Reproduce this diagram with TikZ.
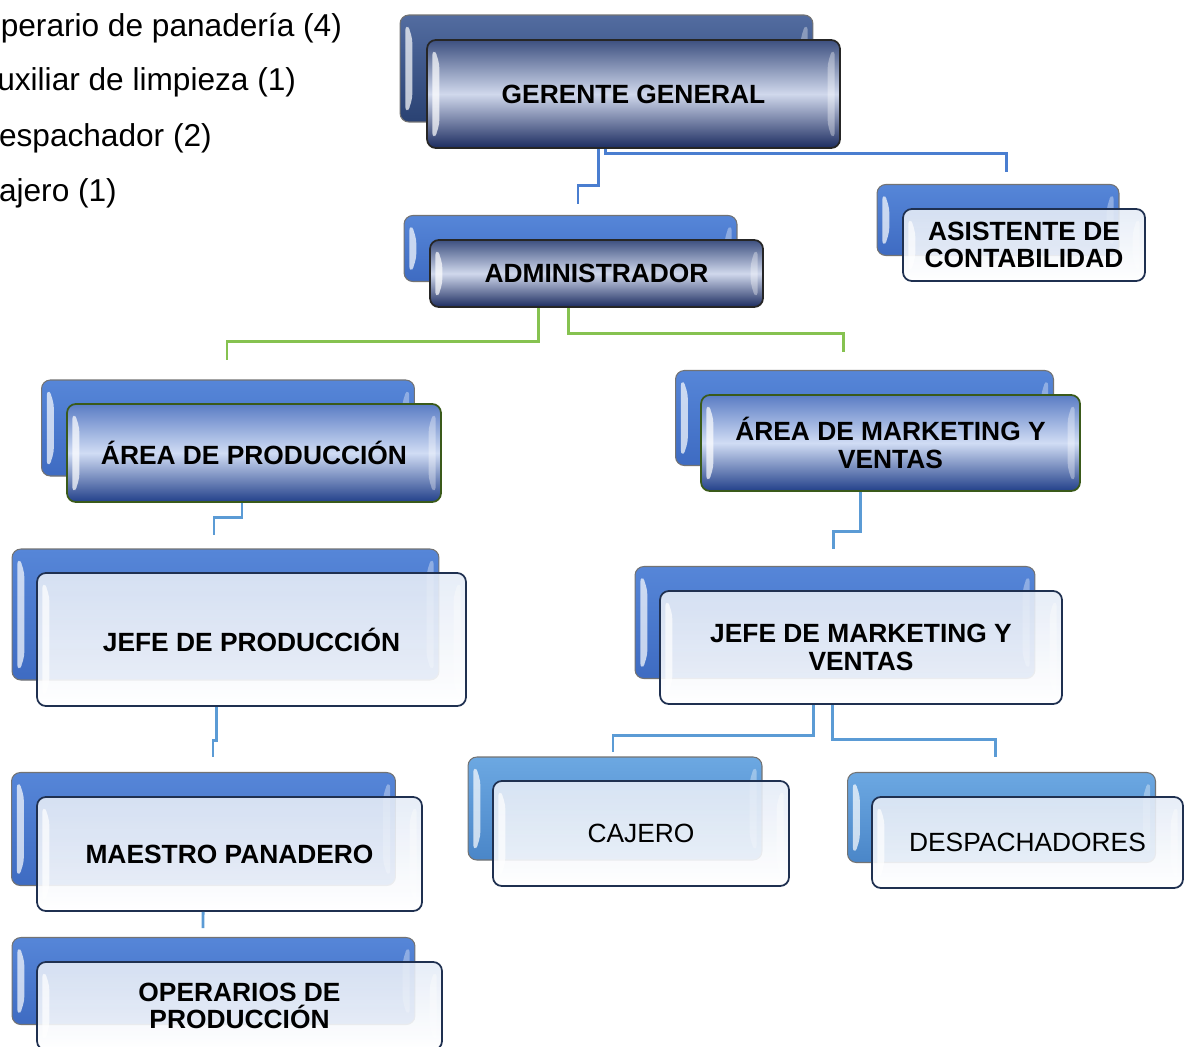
\documentclass[tikz,border=0pt]{standalone}
\usepackage{fontspec}
\setmainfont{Liberation Sans}
\usepackage{tikz}
\definecolor{navytop}{HTML}{3D5080}
\definecolor{navymid}{HTML}{D0D8EC}
\definecolor{navybot}{HTML}{1C2C60}
\definecolor{navyback}{HTML}{34528F}
\definecolor{areatop}{HTML}{5A7CC4}
\definecolor{areamid}{HTML}{D0DCF4}
\definecolor{areabot}{HTML}{22408A}
\definecolor{arealine}{HTML}{3A5A1A}
\definecolor{midtop}{HTML}{5686D8}
\definecolor{midbot}{HTML}{3E6BC2}
\definecolor{skytop}{HTML}{6CA8E2}
\definecolor{skybot}{HTML}{4A86C8}
\definecolor{lighttop}{HTML}{E4EBF6}
\definecolor{lightline}{HTML}{1F3050}
\definecolor{linkblue}{HTML}{4A7ED0}
\definecolor{linkgreen}{HTML}{86C250}
\definecolor{linksky}{HTML}{5B9BD5}
\tikzset{
  bevel/.style={path picture={
    \fill[white,opacity=0.7] ([shift={(3pt,-4pt)}]path picture bounding box.north west) -- ([shift={(7pt,-11pt)}]path picture bounding box.north west) -- ([shift={(7pt,11pt)}]path picture bounding box.south west) -- ([shift={(3pt,4pt)}]path picture bounding box.south west) -- cycle;
    \fill[white,opacity=0.35] ([shift={(-3pt,-4pt)}]path picture bounding box.north east) -- ([shift={(-7pt,-11pt)}]path picture bounding box.north east) -- ([shift={(-7pt,11pt)}]path picture bounding box.south east) -- ([shift={(-3pt,4pt)}]path picture bounding box.south east) -- cycle;
  }},
  backbox/.style={rounded corners=5pt,draw=black!55,line width=0.6pt,bevel},
  frontbox/.style={rounded corners=5pt,line width=1pt,align=center,bevel,
    font=\fontsize{15}{15.5}\selectfont\bfseries},
  navyback/.style={top color=navyback!85!white,bottom color=navyback!80!black},
  midback/.style={top color=midtop,bottom color=midbot},
  skyback/.style={top color=skytop,bottom color=skybot},
  navyfront/.style={draw=black!85,top color=navytop,bottom color=navybot,middle color=navymid},
  areafront/.style={draw=arealine,top color=areatop,bottom color=areabot,middle color=areamid},
  lightfront/.style={draw=lightline,top color=lighttop,bottom color=white,fill opacity=0.9,text opacity=1},
  plain/.style={font=\fontsize{15}{15.5}\selectfont},
  conn/.style={line width=1.7pt},
  listtxt/.style={anchor=west,font=\fontsize{18}{18.5}\selectfont}
}

\begin{document}
\begin{tikzpicture}[x=0.02cm,y=-0.02cm]
\useasboundingbox (0,0) rectangle (1187,1046);
% staff list
\node[listtxt] (l-op) at (-30,28) {Operario de panadería (4)};
\node[listtxt] (l-aux) at (-30,82) {Auxiliar de limpieza (1)};
\node[listtxt] (l-desp) at (-30,138) {Despachador (2)};
\node[listtxt] (l-caj) at (-30,193) {Cajero (1)};

% management
\node[backbox,navyback,minimum width=8.26cm,minimum height=2.14cm] (gg-b) at (606.5,68.5) {};
\node[frontbox,navyfront,minimum width=8.26cm,minimum height=2.16cm] (gg) at (633.5,94) {GERENTE GENERAL};
\node[backbox,midback,minimum width=4.84cm,minimum height=1.42cm] (as-b) at (998,220) {};
\node[frontbox,lightfront,minimum width=4.84cm,minimum height=1.44cm] (as) at (1024,245) {ASISTENTE DE\\CONTABILIDAD};
\node[backbox,midback,minimum width=6.66cm,minimum height=1.32cm] (ad-b) at (570.5,248.5) {};
\node[frontbox,navyfront,minimum width=6.66cm,minimum height=1.34cm] (ad) at (596.5,273.5) {ADMINISTRADOR};

% areas
\node[backbox,midback,minimum width=7.46cm,minimum height=1.92cm] (ap-b) at (228,428) {};
\node[frontbox,areafront,minimum width=7.48cm,minimum height=1.96cm] (ap) at (254,453) {ÁREA DE PRODUCCIÓN};
\node[backbox,midback,minimum width=7.56cm,minimum height=1.9cm] (am-b) at (864.5,418) {};
\node[frontbox,areafront,minimum width=7.58cm,minimum height=1.92cm] (am) at (890.5,443) {ÁREA DE MARKETING Y\\VENTAS};

% production
\node[backbox,midback,minimum width=8.54cm,minimum height=2.62cm] (jp-b) at (225.5,614.5) {};
\node[frontbox,lightfront,minimum width=8.58cm,minimum height=2.66cm] (jp) at (251.5,639.5) {JEFE DE PRODUCCIÓN};
\node[backbox,midback,minimum width=7.68cm,minimum height=2.26cm] (mp-b) at (203.5,829) {};
\node[frontbox,lightfront,minimum width=7.7cm,minimum height=2.28cm] (mp) at (229.5,854) {MAESTRO PANADERO};
\node[backbox,midback,minimum width=8.06cm,minimum height=1.74cm] (op-b) at (213.5,981) {};
\node[frontbox,lightfront,minimum width=8.1cm,minimum height=1.76cm] (op) at (239.5,1006) {OPERARIOS DE\\PRODUCCIÓN};

% marketing and sales
\node[backbox,midback,minimum width=8cm,minimum height=2.24cm] (jm-b) at (835,622.5) {};
\node[frontbox,lightfront,minimum width=8.04cm,minimum height=2.26cm] (jm) at (861,647.5) {JEFE DE MARKETING Y\\VENTAS};
\node[backbox,skyback,minimum width=5.88cm,minimum height=2.06cm] (ca-b) at (615,808.5) {};
\node[frontbox,lightfront,plain,minimum width=5.92cm,minimum height=2.1cm] (ca) at (641,833.5) {CAJERO};
\node[backbox,skyback,minimum width=6.16cm,minimum height=1.8cm] (de-b) at (1001.5,817.5) {};
\node[frontbox,lightfront,plain,minimum width=6.22cm,minimum height=1.82cm] (de) at (1027.5,842.5) {DESPACHADORES};

% connector ends
\coordinate (ad-in) at (578,204);
\coordinate (as-in) at (1006,172);
\coordinate (ap-in) at (227,360);
\coordinate (am-in) at (843,352);
\coordinate (jp-in) at (214,535);
\coordinate (jm-in) at (833,549);
\coordinate (mp-in) at (213,757);
\coordinate (op-in) at (203,928);
\coordinate (ca-in) at (613,752);
\coordinate (de-in) at (995,757);

\draw[conn,linkblue] ([xshift=-0.71cm]gg.south) |- ([yshift=0.38cm]ad-in) -- (ad-in);
\draw[conn,linkblue] ([xshift=-0.57cm]gg.south) |- ([yshift=0.38cm]as-in) -- (as-in);
\draw[conn,linkgreen] ([xshift=-1.17cm]ad.south) |- ([yshift=0.38cm]ap-in) -- (ap-in);
\draw[conn,linkgreen] ([xshift=-0.57cm]ad.south) |- ([yshift=0.38cm]am-in) -- (am-in);
\draw[conn,linksky] ([xshift=-0.24cm]ap.south) |- ([yshift=0.36cm]jp-in) -- (jp-in);
\draw[conn,linksky] ([xshift=-0.61cm]am.south) |- ([yshift=0.36cm]jm-in) -- (jm-in);
\draw[conn,linksky] ([xshift=-0.71cm]jp.south) |- ([yshift=0.34cm]mp-in) -- (mp-in);
\draw[conn,linksky] ([xshift=-0.53cm]mp.south) -- (op-in);
\draw[conn,linksky] ([xshift=-0.96cm]jm.south) |- ([yshift=0.34cm]ca-in) -- (ca-in);
\draw[conn,linksky] ([xshift=-0.58cm]jm.south) |- ([yshift=0.36cm]de-in) -- (de-in);
\end{tikzpicture}
\end{document}
